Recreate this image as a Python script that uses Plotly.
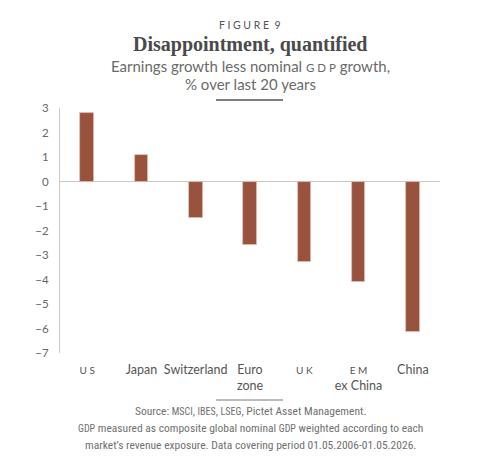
import plotly.graph_objects as go

categories = ["US", "Japan", "Switzerland", "Euro zone", "UK", "EM ex China", "China"]
tick_labels = [
    "<span style='font-size:10px'>U S</span>",
    "Japan",
    "Switzerland",
    "Euro<br>zone",
    "<span style='font-size:10px'>U K</span>",
    "<span style='font-size:10px'>E M</span><br>ex China",
    "China",
]
values = [2.8, 1.1, -1.5, -2.6, -3.3, -4.1, -6.15]
y_ticks = [3, 2, 1, 0, -1, -2, -3, -4, -5, -6, -7]
y_tick_text = ["3", "2", "1", "0", "−1", "−2", "−3", "−4", "−5", "−6", "−7"]

BAR = "#99523d"
GREY = "#666666"
SANS = "Lato, 'Open Sans', sans-serif"
SERIF = "'Liberation Serif', 'DejaVu Serif', serif"
NARROW = "'Liberation Sans Narrow', 'Roboto Condensed', Roboto, sans-serif"

# page body has an 8px default margin; work in window pixels and subtract it
OFF = 8
W, H = 502 - OFF, 466 - OFF
PL, PR, PT, PB = 60, 440, 108, 353          # plot area in window pixels
L, R, T, B = PL - OFF, W - (PR - OFF), PT - OFF, H - (PB - OFF)
pw, ph = W - L - R, H - T - B


def px_x(x):
    return (x - OFF - L) / pw


def px_y(y):
    return 1 - (y - OFF - T) / ph


fig = go.Figure(
    go.Bar(
        x=categories,
        y=values,
        width=0.25,
        marker=dict(color=BAR, line=dict(color="#e2c2b6", width=0.8)),
        hoverinfo="skip",
    )
)

fig.update_layout(
    width=W,
    height=H,
    margin=dict(l=L, r=R, t=T, b=B),
    paper_bgcolor="white",
    plot_bgcolor="white",
    showlegend=False,
    bargap=0,
    font=dict(family=SANS, color=GREY, size=12),
    xaxis=dict(
        tickmode="array",
        tickvals=categories,
        ticktext=tick_labels,
        showgrid=False,
        showline=False,
        zeroline=False,
        ticks="",
        ticklabelstandoff=7,
        tickfont=dict(family=SANS, size=12.5, color="#555555"),
        fixedrange=True,
    ),
    yaxis=dict(
        range=[-7, 3],
        tickmode="array",
        tickvals=y_ticks,
        ticktext=y_tick_text,
        showgrid=False,
        showline=True,
        linecolor="#c8c8c8",
        linewidth=1.2,
        zeroline=True,
        zerolinecolor="#c8c8c8",
        zerolinewidth=1.2,
        ticks="",
        ticklabelstandoff=8,
        tickfont=dict(family=SANS, size=11.5, color="#666666"),
        fixedrange=True,
    ),
)

annos = [
    dict(text="F I G U R E  9", y=25, size=10.5, family=SANS, color="#555555"),
    dict(text="<b>Disappointment, quantified</b>", y=44, size=20, family=SERIF, color="#4a4a4a"),
    dict(text="Earnings growth less nominal <span style='font-size:11.5px'>G D P</span> growth,",
         y=66, size=15, family=SANS, color="#6a6a6a"),
    dict(text="% over last 20 years", y=84, size=15, family=SANS, color="#6a6a6a"),
    dict(text="Source: <span style='font-size:10px'>MSCI</span>, <span style='font-size:10px'>IBES</span>, "
              "<span style='font-size:10px'>LSEG</span>, Pictet Asset Management.",
         y=411, size=11.5, family=NARROW, color="#707070"),
    dict(text="<span style='font-size:10px'>GDP</span> measured as composite global nominal "
              "<span style='font-size:10px'>GDP</span> weighted according to each",
         y=428, size=11.5, family=NARROW, color="#707070"),
    dict(text="market’s revenue exposure. Data covering period 01.05.2006-01.05.2026.",
         y=445, size=11.5, family=NARROW, color="#707070"),
]
for a in annos:
    fig.add_annotation(
        text=a["text"], x=px_x(250), y=px_y(a["y"]), xref="paper", yref="paper",
        xanchor="center", yanchor="middle", showarrow=False,
        font=dict(size=a["size"], family=a["family"], color=a["color"]),
    )
for yy, w in [(100, 1.6), (400, 0.8)]:
    fig.add_shape(type="line", xref="paper", yref="paper",
                  x0=px_x(216), x1=px_x(283), y0=px_y(yy), y1=px_y(yy),
                  line=dict(color="#555555", width=w))

fig.write_html("out.html")
